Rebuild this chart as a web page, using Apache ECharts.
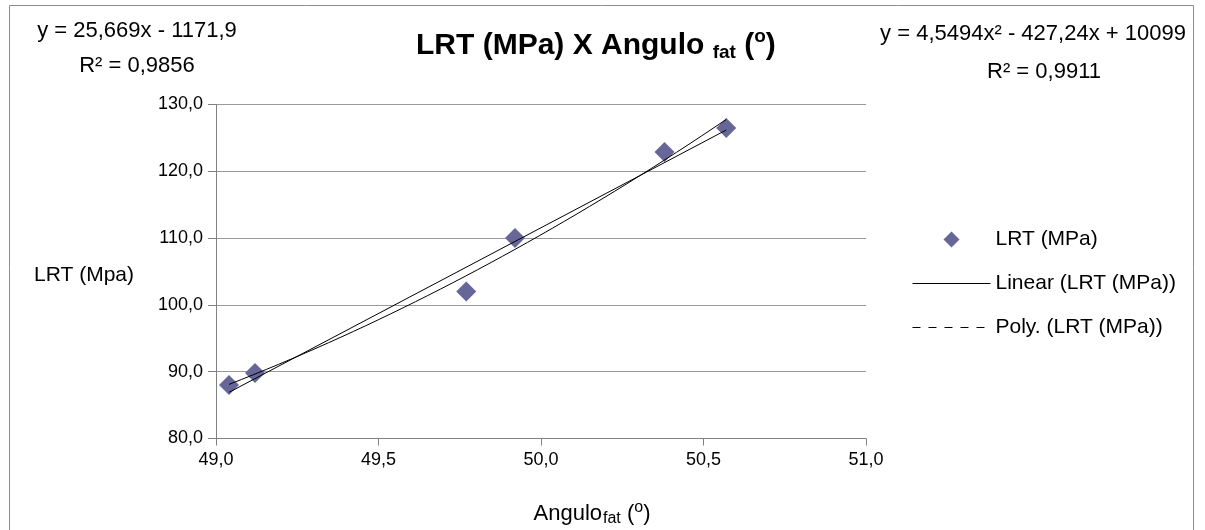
<!DOCTYPE html>
<html>
<head>
<meta charset="utf-8">
<script src="https://cdn.jsdelivr.net/npm/echarts@6/dist/echarts.min.js"></script>
<style>
  html, body { margin: 0; padding: 0; background: #fff; }
  #chart { width: 1205px; height: 530px; }
</style>
</head>
<body>
<div id="chart"></div>
<script>
// LRT (MPa) vs fat angle
const angle = [49.04, 49.12, 49.77, 49.92, 50.38, 50.57];
const lrt = [88.0, 89.8, 102.0, 110.0, 122.9, 126.5];

// trendline equations as printed on the chart
const linearCoef = [25.669, -1171.9];          // y = a*x + b
const polyCoef = [4.5494, -427.24, 10099];     // y = a*x^2 + b*x + c
const linearLabel = ['y = 25,669x - 1171,9', 'R² = 0,9856'];
const polyLabel = ['y = 4,5494x² - 427,24x + 10099', 'R² = 0,9911'];

const seriesNames = ['LRT (MPa)', 'Linear (LRT (MPa))', 'Poly. (LRT (MPa))'];

const FONT = '"Liberation Sans", Arial, sans-serif';
const fmt = (v) => v.toFixed(1).replace('.', ',');

const xMin = Math.min(...angle);
const xMax = Math.max(...angle);

const linearLine = [xMin, xMax].map((x) => [x, linearCoef[0] * x + linearCoef[1]]);

const polyLine = [];
const steps = 40;
for (let i = 0; i <= steps; i++) {
    const x = xMin + (xMax - xMin) * i / steps;
    polyLine.push([x, polyCoef[0] * x * x + polyCoef[1] * x + polyCoef[2]]);
}

const label = (text, x, y, size) => ({
    type: 'text',
    silent: true,
    x: x,
    y: y,
    style: {
        text: text,
        fontSize: size,
        fontFamily: FONT,
        fill: '#000',
        align: 'center',
        verticalAlign: 'middle',
    },
});

const hiddenSymbol = { color: 'rgba(0,0,0,0)', borderWidth: 0 };

const chart = echarts.init(document.getElementById('chart'));

chart.setOption({
    animation: false,
    textStyle: { fontFamily: FONT, color: '#000' },
    grid: { left: 216, right: 339, top: 104.5, bottom: 91.5 },
    legend: {
        orient: 'vertical',
        left: 907,
        top: 224,
        itemWidth: 78,
        itemHeight: 16,
        itemGap: 23,
        textStyle: { fontSize: 21, color: '#000', fontFamily: FONT },
        data: [
            { name: seriesNames[0], icon: 'path://M7,0L14,7L7,14L0,7Z', itemStyle: { color: '#666699', opacity: 1 } },
            { name: seriesNames[1], itemStyle: hiddenSymbol, lineStyle: { color: '#000', width: 1 } },
            { name: seriesNames[2], itemStyle: hiddenSymbol, lineStyle: { type: [8, 8], width: 1, color: '#000' } },
        ],
    },
    xAxis: {
        type: 'value',
        min: 49,
        max: 51,
        interval: 0.5,
        axisLine: { onZero: false, lineStyle: { color: '#808080' } },
        axisTick: { length: 7, lineStyle: { color: '#808080' } },
        splitLine: { show: false },
        axisLabel: { formatter: fmt, fontSize: 18, color: '#000', margin: 13 },
    },
    yAxis: {
        type: 'value',
        min: 80,
        max: 130,
        interval: 10,
        axisLine: { show: true, onZero: false, lineStyle: { color: '#808080' } },
        axisTick: { show: true, length: 8, lineStyle: { color: '#808080' } },
        splitLine: { lineStyle: { color: '#999999', width: 1 } },
        axisLabel: { formatter: fmt, fontSize: 18, color: '#000', margin: 13 },
    },
    series: [
        {
            name: seriesNames[0],
            type: 'scatter',
            symbol: 'diamond',
            symbolSize: 20,
            itemStyle: { color: '#666699', opacity: 1 },
            data: angle.map((x, i) => [x, lrt[i]]),
            z: 3,
        },
        {
            name: seriesNames[1],
            type: 'line',
            showSymbol: false,
            symbol: 'none',
            itemStyle: { color: '#000' },
            lineStyle: { color: '#000', width: 1 },
            data: linearLine,
            z: 4,
        },
        {
            name: seriesNames[2],
            type: 'line',
            showSymbol: false,
            symbol: 'none',
            itemStyle: { color: '#000' },
            lineStyle: { color: '#000', width: 1 },
            data: polyLine,
            z: 4,
        },
    ],
    graphic: [
        {
            type: 'rect',
            silent: true,
            shape: { x: 9.5, y: 5.5, width: 1184, height: 600 },
            style: { fill: 'none', stroke: '#8c8c8c', lineWidth: 1 },
        },
        {
            type: 'text',
            silent: true,
            x: 416,
            y: 46,
            style: {
                text: '{b|LRT (MPa) X Angulo }{sub|fat}{b| (}{sup|o}{b|)}',
                verticalAlign: 'middle',
                rich: {
                    b: { fontSize: 30, fontWeight: 'bold', fontFamily: FONT, color: '#000', lineHeight: 40, verticalAlign: 'middle' },
                    sub: { fontSize: 19, fontWeight: 'bold', fontFamily: FONT, color: '#000', padding: [14, 0, 0, 0], verticalAlign: 'middle' },
                    sup: { fontSize: 19, fontWeight: 'bold', fontFamily: FONT, color: '#000', padding: [0, 0, 18, 0], verticalAlign: 'middle' },
                },
            },
        },
        label(linearLabel[0], 137, 31, 22),
        label(linearLabel[1], 137, 66, 22),
        label(polyLabel[0], 1033, 34, 22),
        label(polyLabel[1], 1044, 72, 22),
        label('LRT (Mpa)', 84, 275, 21),
        {
            type: 'text',
            silent: true,
            x: 592,
            y: 514,
            style: {
                text: '{n|Angulo}{sub|fat}{n| (}{sup|o}{n|)}',
                align: 'center',
                verticalAlign: 'middle',
                rich: {
                    n: { fontSize: 22, fontFamily: FONT, color: '#000', lineHeight: 30, verticalAlign: 'middle' },
                    sub: { fontSize: 16, fontFamily: FONT, color: '#000', padding: [9, 0, 0, 1], verticalAlign: 'middle' },
                    sup: { fontSize: 16, fontFamily: FONT, color: '#000', padding: [0, 0, 13, 0], verticalAlign: 'middle' },
                },
            },
        },
    ],
});

window.addEventListener('resize', chart.resize);
</script>
</body>
</html>
